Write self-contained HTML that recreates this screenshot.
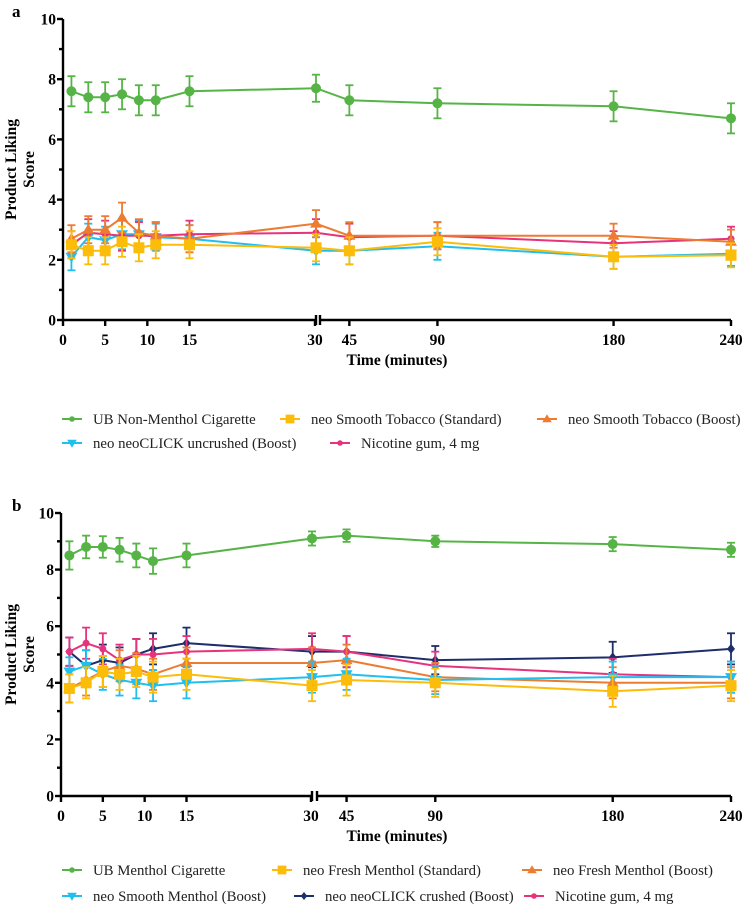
<!DOCTYPE html>
<html><head><meta charset="utf-8"><style>
body{margin:0;background:#fff;width:747px;height:905px;overflow:hidden}
svg text{font-family:"Liberation Serif",serif}
</style></head><body>
<svg id="chart" width="747" height="905" xmlns="http://www.w3.org/2000/svg"></svg>
<script>
const times=[1,3,5,7,9,11,15,30,45,90,180,240];
const xTicks=[0,5,10,15,30,45,90,180,240];
const yTicks=[0,2,4,6,8,10];
const namesA=["UB Non-Menthol Cigarette","neo Smooth Tobacco (Standard)","neo Smooth Tobacco (Boost)","neo neoCLICK uncrushed (Boost)","Nicotine gum, 4 mg"];
const greenA=[7.6,7.4,7.4,7.5,7.3,7.3,7.6,7.7,7.3,7.2,7.1,6.7];
const yellowA=[2.5,2.3,2.3,2.6,2.4,2.5,2.5,2.4,2.3,2.6,2.1,2.15];
const orangeA=[2.7,3.0,3.0,3.4,2.9,2.8,2.7,3.2,2.8,2.8,2.8,2.6];
const cyanA=[2.1,2.75,2.65,2.85,2.85,2.75,2.7,2.3,2.3,2.45,2.1,2.2];
const pinkA=[2.5,2.9,2.85,2.8,2.8,2.8,2.85,2.9,2.75,2.8,2.55,2.7];
const errA=[0.5,0.5,0.5,0.5,0.5,0.5,0.5,0.45,0.5,0.5,0.5,0.5];
const errA2=[0.45,0.45,0.45,0.5,0.45,0.45,0.45,0.45,0.45,0.45,0.4,0.4];
const namesB=["UB Menthol Cigarette","neo Fresh Menthol (Standard)","neo Fresh Menthol (Boost)","neo Smooth Menthol (Boost)","neo neoCLICK crushed (Boost)","Nicotine gum, 4 mg"];
const greenB=[8.5,8.8,8.8,8.7,8.5,8.3,8.5,9.1,9.2,9.0,8.9,8.7];
const yellowB=[3.8,4.0,4.4,4.3,4.4,4.2,4.3,3.9,4.1,4.0,3.7,3.9];
const orangeB=[3.8,4.1,4.4,4.6,4.5,4.3,4.7,4.7,4.8,4.2,4.0,4.0];
const cyanB=[4.4,4.6,4.3,4.1,4.0,3.9,4.0,4.2,4.3,4.1,4.2,4.2];
const navyB=[5.1,4.6,4.8,4.7,5.0,5.2,5.4,5.1,5.1,4.8,4.9,5.2];
const pinkB=[5.1,5.4,5.2,4.8,5.0,5.0,5.1,5.2,5.1,4.6,4.3,4.2];
const errBg=[0.5,0.4,0.38,0.42,0.42,0.45,0.42,0.25,0.22,0.2,0.25,0.25];
const errB=[0.5,0.55,0.55,0.55,0.55,0.55,0.55,0.55,0.55,0.5,0.55,0.55];

const svg=document.getElementById('chart');
const NS='http://www.w3.org/2000/svg';
function mk(tag,attrs,parent){const e=document.createElementNS(NS,tag);for(const k in attrs)e.setAttribute(k,attrs[k]);(parent||svg).appendChild(e);return e;}
const colors={green:'#56b447',yellow:'#fcbc0a',orange:'#ec7c31',cyan:'#1fbff0',pink:'#e7327c',navy:'#1e2d6b'};

function marker(g,shape,cx,cy,c){
  if(shape==='circle')return mk('circle',{cx,cy,r:5,fill:c},g);
  if(shape==='smallcircle')return mk('circle',{cx,cy,r:3.5,fill:c},g);
  if(shape==='square')return mk('rect',{x:cx-5.5,y:cy-5.5,width:11,height:11,fill:c},g);
  if(shape==='up')return mk('polygon',{points:`${cx},${cy-6} ${cx-6},${cy+4} ${cx+6},${cy+4}`,fill:c},g);
  if(shape==='down')return mk('polygon',{points:`${cx},${cy+6} ${cx-6},${cy-4} ${cx+6},${cy-4}`,fill:c},g);
  if(shape==='diamond')return mk('polygon',{points:`${cx},${cy-5} ${cx-4},${cy} ${cx},${cy+5} ${cx+4},${cy}`,fill:c},g);
}

function panel(P){
  const xs=t=>t<=30?P.x0+(P.x1-P.x0)*t/30:P.x2+(P.x3-P.x2)*(t-30)/210;
  const ys=v=>P.yb+(P.yt-P.yb)*v/10;
  const g=mk('g',{});  
  const ax=mk('g',{stroke:'#000','stroke-width':2.4,fill:'none'},g);
  
  mk('line',{x1:P.x0,y1:P.yb+1,x2:P.x0,y2:P.yt},ax);
  yTicks.forEach(v=>{mk('line',{x1:P.x0-6,x2:P.x0,y1:ys(v),y2:ys(v)},ax);});
  [1,3,5,7,9].forEach(v=>{mk('line',{x1:P.x0-4,x2:P.x0,y1:ys(v),y2:ys(v)},ax);});
  yTicks.forEach(v=>{const t=mk('text',{x:P.x0-7,y:ys(v)+5.5,'text-anchor':'end','font-size':15.5,'font-weight':'bold',fill:'#000',stroke:'none'},g);t.textContent=v;});
  const xa=mk('g',{stroke:'#000','stroke-width':2.4,fill:'none'},g);
  
  mk('line',{x1:P.x0,y1:P.yb,x2:P.x1,y2:P.yb},xa);
  mk('line',{x1:P.x2,y1:P.yb,x2:P.x3,y2:P.yb},xa);
  mk('line',{x1:P.x1,y1:P.yb-5,x2:P.x1,y2:P.yb+5},xa);
  mk('line',{x1:P.x2,y1:P.yb-5,x2:P.x2,y2:P.yb+5},xa);
  xTicks.forEach(t=>{const x=t===30?P.x1-1:xs(t);mk('line',{x1:x,x2:x,y1:P.yb,y2:P.yb+6},xa);
    const tx=mk('text',{x:x,y:P.yb+25,'text-anchor':'middle','font-size':15.5,'font-weight':'bold',fill:'#000',stroke:'none'},g);tx.textContent=t;});
  const xt=mk('text',{x:397,y:P.yb+45,'text-anchor':'middle','font-size':15.5,'font-weight':'bold'},g);xt.textContent='Time (minutes)';
  
  const yt=mk('text',{transform:`translate(20,${(P.yt+P.yb)/2}) rotate(-90)`,'text-anchor':'middle','font-size':15.5,'font-weight':'bold'},g);
  
  const s1=mk('tspan',{x:0,dy:-4},yt);s1.textContent='Product Liking';
  const s2=mk('tspan',{x:0,dy:18},yt);s2.textContent='Score';
  const lb=mk('text',{x:12,y:P.yt-2,'font-size':17,'font-weight':'bold','font-family':'Liberation Sans'},g);lb.textContent=P.letter;
  
  P.series.forEach(s=>{
    const sg=mk('g',{},g);
    const c=colors[s.color];
    s.vals.forEach((v,i)=>{const x=xs(times[i]);const e=s.err[i];
      mk('line',{x1:x,x2:x,y1:ys(v-e),y2:ys(v+e),stroke:c,'stroke-width':1.8},sg);
      mk('line',{x1:x-4,x2:x+4,y1:ys(v-e),y2:ys(v-e),stroke:c,'stroke-width':1.8},sg);
      mk('line',{x1:x-4,x2:x+4,y1:ys(v+e),y2:ys(v+e),stroke:c,'stroke-width':1.8},sg);});
    mk('polyline',{points:s.vals.map((v,i)=>xs(times[i])+','+ys(v)).join(' '),fill:'none',stroke:c,'stroke-width':2},sg);
    s.vals.forEach((v,i)=>{const m=marker(sg,s.shape,xs(times[i]),ys(v),c);});
  });
  P.legend.forEach(l=>{
    const lg=mk('g',{},g);
    const c=colors[l.color];
    mk('line',{x1:l.x-10,x2:l.x+10,y1:l.y-5,y2:l.y-5,stroke:c,'stroke-width':2},lg);
    marker(lg,l.shape==='circle'?'smallcircle':l.shape,l.x,l.y-5,c).setAttribute('transform',`translate(${l.x},${l.y-5}) scale(0.8) translate(${-l.x},${-(l.y-5)})`);
    const t=mk('text',{x:l.x+21,y:l.y,'font-size':14.8,fill:'#222'},lg);t.textContent=l.name;
  });
}

panel({name:'panel-a',letter:'a',x0:63,x1:316,x2:320,x3:731,yt:19,yb:320,
  series:[
    {key:'ub-non-menthol',color:'green',shape:'circle',vals:greenA,err:errA},
    {key:'neoclick-uncrushed',color:'cyan',shape:'down',vals:cyanA,err:errA2},
    {key:'nicotine-gum',color:'pink',shape:'smallcircle',vals:pinkA,err:errA2},
    {key:'smooth-tobacco-boost',color:'orange',shape:'up',vals:orangeA,err:errA2},
    {key:'smooth-tobacco-standard',color:'yellow',shape:'square',vals:yellowA,err:errA2}],
  legend:[
    {name:namesA[0],color:'green',shape:'circle',x:72,y:424},
    {name:namesA[1],color:'yellow',shape:'square',x:290,y:424},
    {name:namesA[2],color:'orange',shape:'up',x:547,y:424},
    {name:namesA[3],color:'cyan',shape:'down',x:72,y:448},
    {name:namesA[4],color:'pink',shape:'circle',x:340,y:448}]});

panel({name:'panel-b',letter:'b',x0:61,x1:312,x2:317,x3:731,yt:513,yb:796,
  series:[
    {key:'ub-menthol',color:'green',shape:'circle',vals:greenB,err:errBg},
    {key:'neoclick-crushed',color:'navy',shape:'diamond',vals:navyB,err:errB},
    {key:'nicotine-gum',color:'pink',shape:'smallcircle',vals:pinkB,err:errB},
    {key:'fresh-menthol-boost',color:'orange',shape:'up',vals:orangeB,err:errB},
    {key:'smooth-menthol-boost',color:'cyan',shape:'down',vals:cyanB,err:errB},
    {key:'fresh-menthol-standard',color:'yellow',shape:'square',vals:yellowB,err:errB}],
  legend:[
    {name:namesB[0],color:'green',shape:'circle',x:72,y:875},
    {name:namesB[1],color:'yellow',shape:'square',x:282,y:875},
    {name:namesB[2],color:'orange',shape:'up',x:532,y:875},
    {name:namesB[3],color:'cyan',shape:'down',x:72,y:901},
    {name:namesB[4],color:'navy',shape:'diamond',x:304,y:901},
    {name:namesB[5],color:'pink',shape:'circle',x:534,y:901}]});
</script>
</body></html>
